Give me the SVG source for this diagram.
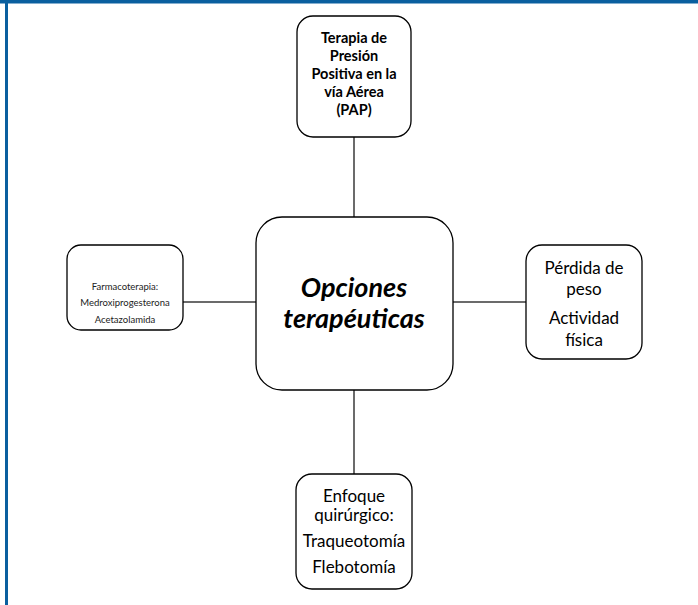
<svg xmlns="http://www.w3.org/2000/svg" width="698" height="605" viewBox="0 0 698 605">
<style>
.box{fill:#fff;stroke:#000;stroke-width:1.3}
.ln{stroke:#3a3a3a;stroke-width:1.5;fill:none}
text{font-family:Lato,"Open Sans","Liberation Sans",sans-serif;fill:#000;text-anchor:middle}
.b{font-weight:bold;font-size:14.5px}
.s{font-size:9.5px;fill:#222}
.m{font-size:17px}
.c{font-weight:bold;font-style:italic;font-size:27px}
</style>
<rect x="0" y="0" width="698" height="605" fill="#fff"/>
<rect x="0" y="0" width="698" height="3.5" fill="#0a5f9f"/>
<rect x="5" y="0" width="3" height="605" fill="#0a5f9f"/>
<g id="connectors">
<line class="ln" x1="354" y1="137" x2="354" y2="217"/>
<line class="ln" x1="354" y1="390" x2="354" y2="474"/>
<line class="ln" x1="183" y1="302" x2="256" y2="302"/>
<line class="ln" x1="453" y1="302" x2="526" y2="302"/>
</g>
<g id="center">
<rect class="box" x="256" y="217" width="197" height="173" rx="26"/>
<text class="c" x="354" y="297">Opciones</text>
<text class="c" x="354" y="328">terapéuticas</text>
</g>
<g id="top">
<rect class="box" x="297" y="16" width="114" height="121" rx="16"/>
<text class="b" x="354" y="43">Terapia de</text>
<text class="b" x="354" y="61">Presión</text>
<text class="b" x="354" y="79">Positiva en la</text>
<text class="b" x="354" y="97">vía Aérea</text>
<text class="b" x="354" y="115">(PAP)</text>
</g>
<g id="left">
<rect class="box" x="67" y="245" width="116" height="85" rx="14"/>
<text class="s" x="125" y="290">Farmacoterapia:</text>
<text class="s" x="125" y="306">Medroxiprogesterona</text>
<text class="s" x="125" y="323">Acetazolamida</text>
</g>
<g id="right">
<rect class="box" x="526" y="245" width="116" height="114" rx="16"/>
<text class="m" x="584" y="274">Pérdida de</text>
<text class="m" x="584" y="295">peso</text>
<text class="m" x="584" y="324">Actividad</text>
<text class="m" x="584" y="346">física</text>
</g>
<g id="bottom">
<rect class="box" x="296" y="474" width="116" height="115" rx="16"/>
<text class="m" x="354" y="502">Enfoque</text>
<text class="m" x="354" y="521">quirúrgico:</text>
<text class="m" x="354" y="547">Traqueotomía</text>
<text class="m" x="354" y="573">Flebotomía</text>
</g>
</svg>
